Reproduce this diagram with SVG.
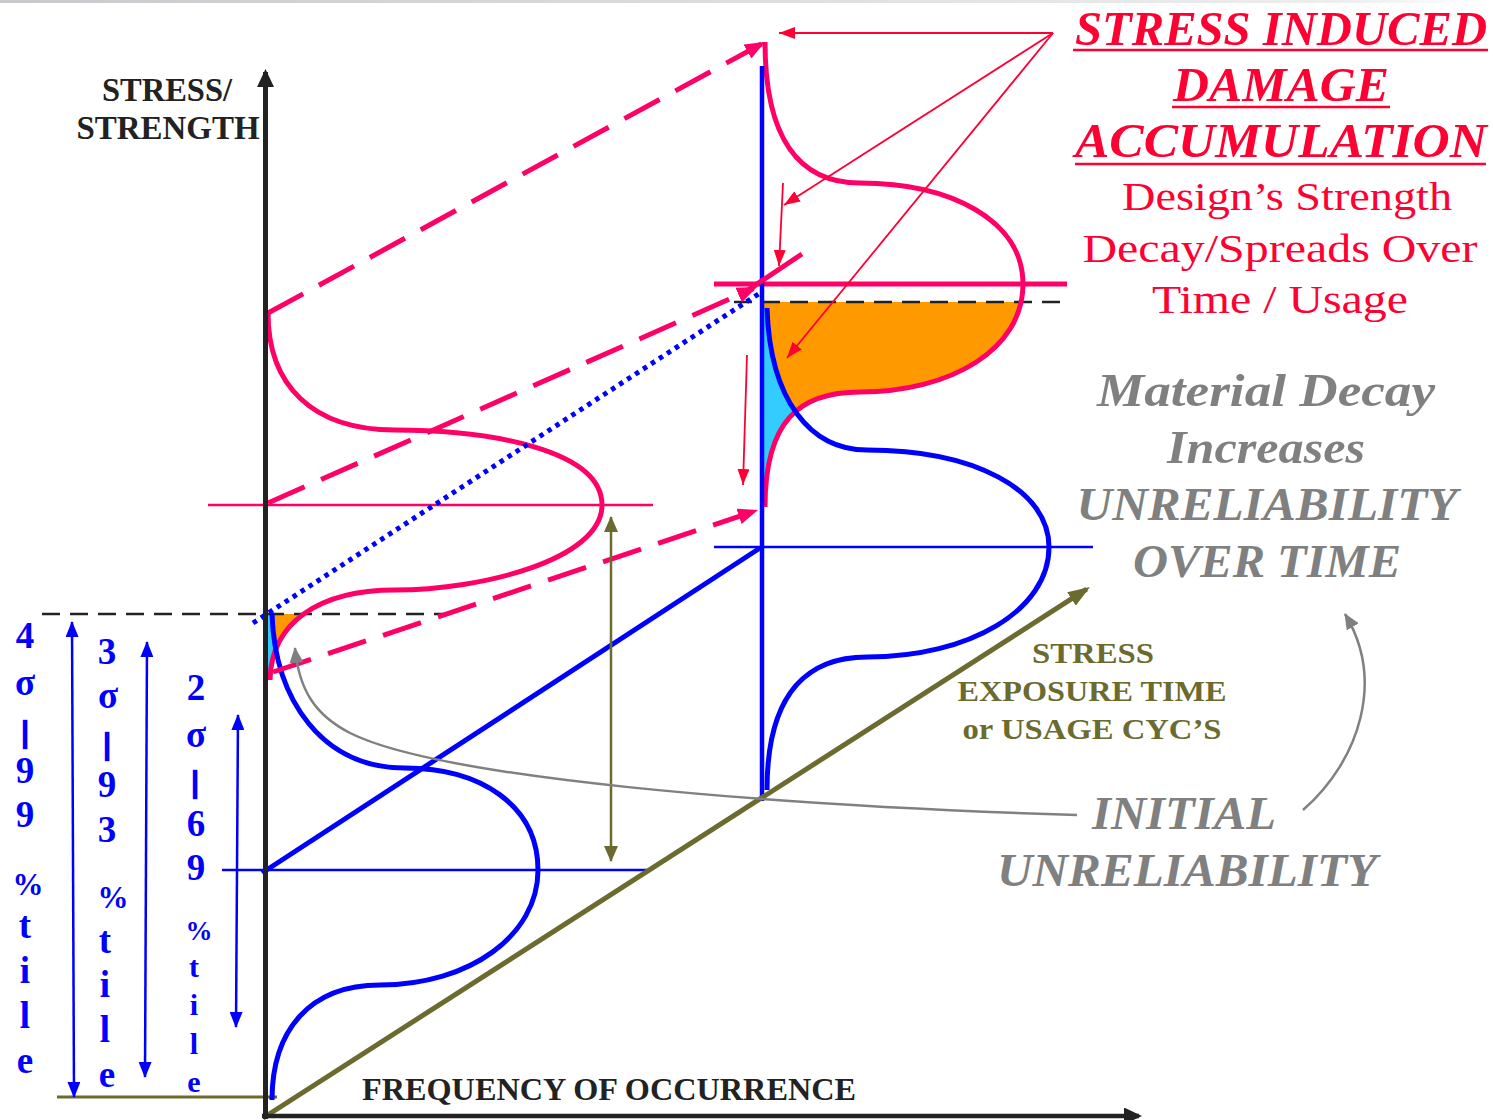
<svg xmlns="http://www.w3.org/2000/svg" width="1493" height="1120" viewBox="0 0 1493 1120">
<defs>
<style>
.ser{font-family:"Liberation Serif","DejaVu Serif",serif}
.b{font-weight:bold}
.bi{font-weight:bold;font-style:italic}
.red{fill:#ff0033}
.gray{fill:#808080}
.olive{fill:#6b6b30}
.blk{fill:#222222}
.sig{fill:#0000ff;font-weight:bold;font-size:37px;text-anchor:middle}
.bar{stroke:#0000ff;stroke-width:2.4}
.pinkc{fill:none;stroke:#ff0066;stroke-width:5}
.bluec{fill:none;stroke:#0000ff;stroke-width:5}
.pdash{fill:none;stroke:#ff0066;stroke-width:5;stroke-dasharray:40 18}
.redarr{fill:none;stroke:#ff0033;stroke-width:1.8;marker-end:url(#mRed)}
.bdarr{fill:none;stroke:#0000ff;stroke-width:2.5;marker-start:url(#mBlue);marker-end:url(#mBlue)}
.kdash{fill:none;stroke:#222222;stroke-width:2.5;stroke-dasharray:18 10}
.grayarr{fill:none;stroke:#808080;stroke-width:2.5;marker-end:url(#mGray)}
</style>
<linearGradient id="topg" x1="0" x2="1" y1="0" y2="0">
<stop offset="0" stop-color="#c8c9cc"/><stop offset="0.9" stop-color="#eeeeee"/><stop offset="1" stop-color="#ffffff"/>
</linearGradient>
<marker id="mBlack" viewBox="0 0 18 17" refX="15" refY="8.5" markerWidth="18" markerHeight="17" markerUnits="userSpaceOnUse" orient="auto"><path d="M0,0 L18,8.5 L0,17 z" fill="#222222"/></marker>
<marker id="mPink" viewBox="0 0 20 16" refX="16" refY="8" markerWidth="20" markerHeight="16" markerUnits="userSpaceOnUse" orient="auto"><path d="M0,0 L20,8 L0,16 z" fill="#ff0066"/></marker>
<marker id="mRed" viewBox="0 0 16 12" refX="16" refY="6" markerWidth="16" markerHeight="12" markerUnits="userSpaceOnUse" orient="auto"><path d="M0,0 L16,6 L0,12 z" fill="#ff0033"/></marker>
<marker id="mBlue" viewBox="0 0 16 13" refX="15" refY="6.5" markerWidth="16" markerHeight="13" markerUnits="userSpaceOnUse" orient="auto-start-reverse"><path d="M0,0 L16,6.5 L0,13 z" fill="#0000ff"/></marker>
<marker id="mOlive" viewBox="0 0 16 14" refX="15" refY="7" markerWidth="16" markerHeight="14" markerUnits="userSpaceOnUse" orient="auto-start-reverse"><path d="M0,0 L16,7 L0,14 z" fill="#6b6b30"/></marker>
<marker id="mOliveBig" viewBox="0 0 22 16" refX="18" refY="8" markerWidth="22" markerHeight="16" markerUnits="userSpaceOnUse" orient="auto"><path d="M0,0 L22,8 L0,16 z" fill="#6b6b30"/></marker>
<marker id="mGray" viewBox="0 0 16 14" refX="15" refY="7" markerWidth="16" markerHeight="14" markerUnits="userSpaceOnUse" orient="auto"><path d="M0,0 L16,7 L0,14 z" fill="#808080"/></marker>
<clipPath id="below0"><rect x="255" y="614" width="120" height="120"/></clipPath>
<clipPath id="belowT"><rect x="750" y="302" width="320" height="260"/></clipPath>
<clipPath id="pink0"><path d="M265,313 L268,313 C268,385 312,430 395,430 C490,430 602,450 602,505 C602,560 480,590 395,590 C320,590 271,622 270,680 L265,680 Z"/></clipPath>
<clipPath id="pinkT"><path d="M762,42 L765,42 C765,140 800,183 860,183 C950,183 1023,220 1023,284 C1023,350 950,392 860,392 C800,392 765,420 765,507 L762,507 Z"/></clipPath>
</defs>

<rect x="0" y="0" width="1493" height="1120" fill="#ffffff"/>
<rect x="0" y="0" width="1493" height="3" fill="url(#topg)"/>

<g id="overlap-fills">
<path d="M265,313 L268,313 C268,385 312,430 395,430 C490,430 602,450 602,505 C602,560 480,590 395,590 C320,590 271,622 270,680 L265,680 Z" fill="#ff9900" clip-path="url(#below0)"/>
<g clip-path="url(#below0)"><path d="M265,614 L272,614 C275,700 322,768 405,768 C480,768 538,805 538,870 C538,935 470,985 380,985 C310,985 272,1030 272,1100 L265,1100 Z" fill="#33ccff" clip-path="url(#pink0)"/></g>
<path d="M762,42 L765,42 C765,140 800,183 860,183 C950,183 1023,220 1023,284 C1023,350 950,392 860,392 C800,392 765,420 765,507 L762,507 Z" fill="#ff9900" clip-path="url(#belowT)"/>
<g clip-path="url(#belowT)"><path d="M762,308 L767,308 C770,400 810,450 867,450 C975,450 1049,490 1049,547 C1049,610 970,657 867,657 C810,657 767,690 767,790 L762,790 Z" fill="#33ccff" clip-path="url(#pinkT)"/></g>
</g>

<g id="reference-lines">
<line class="kdash" x1="42" y1="614" x2="446" y2="614"/>
<line class="kdash" x1="734" y1="302" x2="1067" y2="302"/>
<line x1="208" y1="505" x2="653" y2="505" stroke="#ff0066" stroke-width="2.5"/>
<line x1="714" y1="284" x2="1067" y2="284" stroke="#ff0066" stroke-width="5"/>
<line x1="222" y1="870" x2="650" y2="870" stroke="#0000ff" stroke-width="2.5"/>
<line x1="714" y1="547" x2="1093" y2="547" stroke="#0000ff" stroke-width="2.5"/>
<line x1="57" y1="1097" x2="277" y2="1097" stroke="#6b6b30" stroke-width="3"/>
</g>

<g id="initial-distributions">
<path class="pinkc" d="M268,313 C268,385 312,430 395,430 C490,430 602,450 602,505 C602,560 480,590 395,590 C320,590 271,622 270,680"/>
<path class="bluec" d="M272,614 C275,700 322,768 405,768 C480,768 538,805 538,870 C538,935 470,985 380,985 C310,985 272,1030 272,1100"/>
</g>

<g id="decayed-distributions">
<path class="pinkc" d="M765,42 C765,140 800,183 860,183 C950,183 1023,220 1023,284 C1023,350 950,392 860,392 C800,392 765,420 765,507"/>
<path class="bluec" d="M767,308 C770,400 810,450 867,450 C975,450 1049,490 1049,547 C1049,610 970,657 867,657 C810,657 767,690 767,790"/>
</g>

<g id="connectors">
<line x1="262" y1="873" x2="760" y2="548" stroke="#0000ff" stroke-width="5"/>
<line x1="762" y1="66" x2="762" y2="801" stroke="#0000ff" stroke-width="4.5"/>
<line x1="253" y1="623" x2="760" y2="293" stroke="#0000ff" stroke-width="5" stroke-dasharray="4.5 5"/>
<line class="pdash" x1="268" y1="313" x2="761.5" y2="43.9" marker-end="url(#mPink)"/>
<line class="pdash" x1="268" y1="503" x2="753.3" y2="288.6" marker-end="url(#mPink)"/>
<line class="pdash" x1="273" y1="672" x2="754.2" y2="511.3" marker-end="url(#mPink)"/>
<line x1="745" y1="292" x2="802" y2="254" stroke="#ff0066" stroke-width="5"/>
<line class="redarr" x1="1053" y1="33" x2="779" y2="33"/>
<line class="redarr" x1="1053" y1="33" x2="784" y2="205"/>
<line class="redarr" x1="1053" y1="33" x2="787" y2="358"/>
<line class="redarr" x1="783" y1="183" x2="779" y2="266"/>
<line class="redarr" x1="747" y1="355" x2="743" y2="485"/>
<line x1="263" y1="1118" x2="1086.6" y2="589.2" stroke="#6b6b30" stroke-width="5" marker-end="url(#mOliveBig)"/>
<line x1="611" y1="517" x2="611" y2="861" stroke="#6b6b30" stroke-width="2.5" marker-start="url(#mOlive)" marker-end="url(#mOlive)"/>
<line class="bdarr" x1="72" y1="622" x2="74" y2="1097"/>
<line class="bdarr" x1="147" y1="642" x2="145" y2="1077"/>
<line class="bdarr" x1="238" y1="715" x2="236" y2="1027"/>
<path class="grayarr" d="M1077,815 C760,805 440,778 350,733 C315,715 299,690 295,648"/>
<path class="grayarr" d="M1303,810 C1360,760 1385,680 1345,614"/>
</g>

<g id="axes">
<line x1="265.5" y1="1119" x2="265.5" y2="72" stroke="#222222" stroke-width="5" marker-end="url(#mBlack)"/>
<line x1="262" y1="1116" x2="1139" y2="1116" stroke="#222222" stroke-width="4.5" marker-end="url(#mBlack)"/>
</g>

<g id="axis-labels" class="ser b blk">
<text x="167" y="101" font-size="33" text-anchor="middle" textLength="130" lengthAdjust="spacingAndGlyphs">STRESS/</text>
<text x="168" y="139" font-size="33" text-anchor="middle" textLength="183" lengthAdjust="spacingAndGlyphs">STRENGTH</text>
<text x="609" y="1100" font-size="31" text-anchor="middle" textLength="494" lengthAdjust="spacingAndGlyphs">FREQUENCY OF OCCURRENCE</text>
</g>

<g id="title-damage" class="ser red">
<text class="bi" x="1281" y="45" font-size="48" text-anchor="middle" textLength="412" lengthAdjust="spacingAndGlyphs">STRESS INDUCED</text>
<text class="bi" x="1281" y="101" font-size="48" text-anchor="middle" textLength="216" lengthAdjust="spacingAndGlyphs">DAMAGE</text>
<text class="bi" x="1281" y="157" font-size="48" text-anchor="middle" textLength="412" lengthAdjust="spacingAndGlyphs">ACCUMULATION</text>
<line x1="1073" y1="50" x2="1488" y2="50" stroke="#ff0033" stroke-width="2.5"/>
<line x1="1172" y1="107" x2="1390" y2="107" stroke="#ff0033" stroke-width="2.5"/>
<line x1="1075" y1="164" x2="1486" y2="164" stroke="#ff0033" stroke-width="2.5"/>
<text x="1287" y="210" font-size="40" text-anchor="middle" textLength="330" lengthAdjust="spacingAndGlyphs">Design’s Strength</text>
<text x="1280" y="262" font-size="40" text-anchor="middle" textLength="395" lengthAdjust="spacingAndGlyphs">Decay/Spreads Over</text>
<text x="1280" y="313" font-size="40" text-anchor="middle" textLength="256" lengthAdjust="spacingAndGlyphs">Time / Usage</text>
</g>

<g id="label-decay" class="ser bi gray">
<text x="1266" y="406" font-size="46" text-anchor="middle" textLength="338" lengthAdjust="spacingAndGlyphs">Material Decay</text>
<text x="1266" y="463" font-size="46" text-anchor="middle" textLength="198" lengthAdjust="spacingAndGlyphs">Increases</text>
<text x="1267" y="520" font-size="46" text-anchor="middle" textLength="381" lengthAdjust="spacingAndGlyphs">UNRELIABILITY</text>
<text x="1267" y="577" font-size="46" text-anchor="middle" textLength="268" lengthAdjust="spacingAndGlyphs">OVER TIME</text>
</g>

<g id="label-initial" class="ser bi gray">
<text x="1184" y="829" font-size="46" text-anchor="middle" textLength="184" lengthAdjust="spacingAndGlyphs">INITIAL</text>
<text x="1187" y="886" font-size="46" text-anchor="middle" textLength="380" lengthAdjust="spacingAndGlyphs">UNRELIABILITY</text>
</g>

<g id="label-exposure" class="ser b olive">
<text x="1093" y="663" font-size="30" text-anchor="middle" textLength="122" lengthAdjust="spacingAndGlyphs">STRESS</text>
<text x="1092" y="701" font-size="30" text-anchor="middle" textLength="269" lengthAdjust="spacingAndGlyphs">EXPOSURE TIME</text>
<text x="1092" y="739" font-size="30" text-anchor="middle" textLength="259" lengthAdjust="spacingAndGlyphs">or USAGE CYC’S</text>
</g>

<g id="sigma-4" class="ser sig">
<text x="25" y="648">4</text>
<text x="25" y="695">σ</text>
<text class="bar" x="25" y="742" font-size="30">|</text>
<text x="25" y="783">9</text>
<text x="25" y="827">9</text>
<text x="28" y="895" font-size="31">%</text>
<text x="25" y="938">t</text>
<text x="25" y="983">i</text>
<text x="25" y="1028">l</text>
<text x="25" y="1073">e</text>
</g>
<g id="sigma-3" class="ser sig">
<text x="107" y="664">3</text>
<text x="108" y="708">σ</text>
<text class="bar" x="107" y="754" font-size="30">|</text>
<text x="107" y="797">9</text>
<text x="107" y="842">3</text>
<text x="113" y="908" font-size="31">%</text>
<text x="105" y="953">t</text>
<text x="105" y="997">i</text>
<text x="105" y="1042">l</text>
<text x="107" y="1087">e</text>
</g>
<g id="sigma-2" class="ser sig">
<text x="196" y="700">2</text>
<text x="196" y="747">σ</text>
<text class="bar" x="195" y="792" font-size="30">|</text>
<text x="196" y="836">6</text>
<text x="196" y="880">9</text>
<text x="199" y="940" font-size="27">%</text>
<text x="194" y="977" font-size="30">t</text>
<text x="194" y="1015" font-size="30">i</text>
<text x="194" y="1054" font-size="30">l</text>
<text x="194" y="1092" font-size="30">e</text>
</g>
</svg>
